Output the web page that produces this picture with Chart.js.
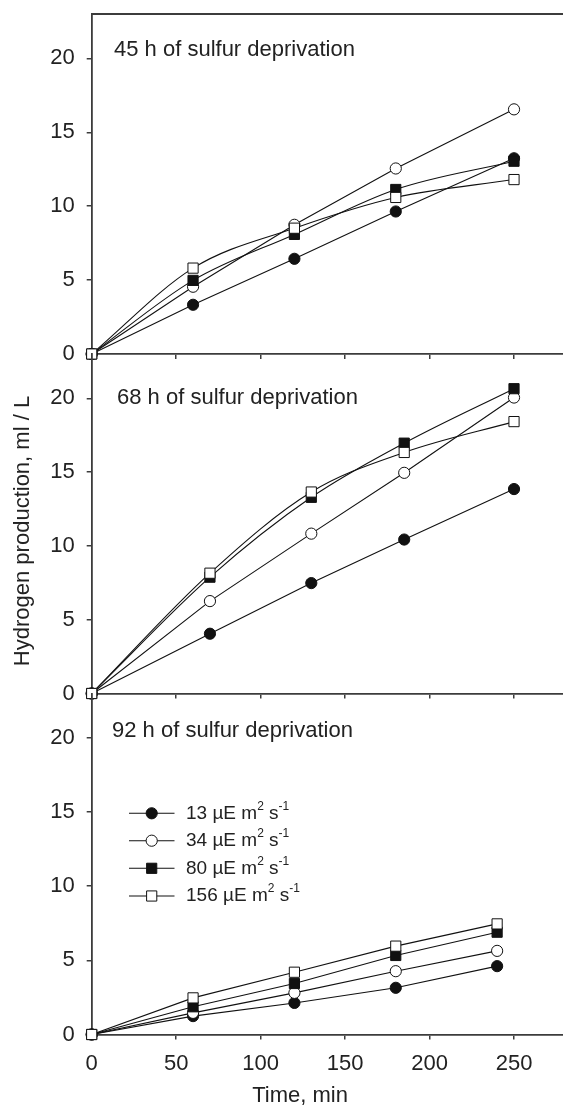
<!DOCTYPE html>
<html>
<head>
<meta charset="utf-8">
<script src="https://cdn.jsdelivr.net/npm/chart.js@4.4.1/dist/chart.umd.min.js"></script>
<style>
  html, body { margin:0; padding:0; background:#fff; }
  #wrap { position:relative; width:563px; height:1106px; overflow:hidden;
          font-family:"Liberation Sans", Arial, sans-serif; color:#222; }
  #wrap canvas { position:absolute; left:0; top:0; }
  .ytitle { position:absolute; left:-178px; top:518px; width:400px; line-height:26px;
            text-align:center; font-size:22px; transform:rotate(-90deg); }
  .xtitle { position:absolute; left:200px; top:1082px; width:200px; line-height:26px;
            text-align:center; font-size:22px; }
</style>
</head>
<body>
<div id="wrap">
  <canvas id="c1" width="563" height="1106"></canvas>
  <canvas id="c2" width="563" height="1106"></canvas>
  <canvas id="c3" width="563" height="1106"></canvas>
  <div class="ytitle">Hydrogen production, ml / L</div>
  <div class="xtitle">Time, min</div>
</div>
<script>
// time points (min) of each panel
const time45 = [0, 60, 120, 180, 250];
const time68 = [0, 70, 130, 185, 250];
const time92 = [0, 60, 120, 180, 240];

// light intensities (µE m2 s-1)
const lightLevels = ["13", "34", "80", "156"];
const panelTitles = ["45 h of sulfur deprivation", "68 h of sulfur deprivation", "92 h of sulfur deprivation"];
const yTicks = [0, 5, 10, 15, 20];
const xTicks = [0, 50, 100, 150, 200, 250];

// hydrogen production, ml / L
const h45_13  = [0, 3.33, 6.44, 9.64, 13.24];
const h45_34  = [0, 4.55, 8.74, 12.55, 16.55];
const h45_80  = [0, 4.98, 8.09, 11.13, 13.04];
const h45_156 = [0, 5.81, 8.51, 10.59, 11.80];

const h68_13  = [0, 4.05, 7.48, 10.43, 13.85];
const h68_34  = [0, 6.26, 10.83, 14.95, 20.05];
const h68_80  = [0, 7.88, 13.29, 16.96, 20.65];
const h68_156 = [0, 8.15, 13.65, 16.33, 18.42];

const h92_13  = [0, 1.24, 2.13, 3.15, 4.61];
const h92_34  = [0, 1.46, 2.81, 4.27, 5.64];
const h92_80  = [0, 1.87, 3.44, 5.33, 6.90];
const h92_156 = [0, 2.47, 4.20, 5.96, 7.46];

const W = 563, H = 1106;
const FONT = '"Liberation Sans", Arial, sans-serif';
const AX = "#3c3c3c";
const tops = [14, 354, 693.5];
const bottoms = [354, 693.5, 1034.5];
const textPos = [[114, 50], [117, 397.5], [112, 731]];

// marker look for each light level
const styles = [
  { pointStyle:"circle", fill:"#111", radius:5.6, order:3 },
  { pointStyle:"circle", fill:"#fff", radius:5.6, order:2 },
  { pointStyle:"rect",   fill:"#111", radius:7.2, order:1 },
  { pointStyle:"rect",   fill:"#fff", radius:7.2, order:0 }
];

function toXY(xs, ys){ return xs.map((x,i)=>({x:x, y:ys[i]})); }

function buildSets(xs, series, smoothSquares){
  return series.map((ys,k)=>({
    label: lightLevels[k],
    data: toXY(xs, ys),
    borderColor:"#111", borderWidth:1.1,
    pointStyle: styles[k].pointStyle,
    pointRadius: styles[k].radius,
    pointBackgroundColor: styles[k].fill,
    pointBorderColor:"#111", pointBorderWidth:1,
    cubicInterpolationMode: (smoothSquares && k>=2) ? "monotone" : "default",
    tension:0, clip:false, order: styles[k].order
  }));
}

const panelText = {
  id:"panelText",
  afterDraw(chart, args, opts){
    const ctx = chart.ctx, a = chart.chartArea;
    ctx.save();
    ctx.fillStyle = "#222";
    ctx.font = "22px " + FONT;
    ctx.textBaseline = "middle";
    ctx.fillText(opts.text, opts.x, opts.y);
    if(opts.topLine){
      ctx.strokeStyle = AX; ctx.lineWidth = 1.8;
      ctx.beginPath(); ctx.moveTo(a.left, a.top); ctx.lineTo(a.right, a.top); ctx.stroke();
    }
    if(opts.legend){
      const rows = [813.3, 840.7, 868.3, 896];
      rows.forEach((y,k)=>{
        ctx.strokeStyle = "#111"; ctx.lineWidth = 1.1;
        ctx.beginPath(); ctx.moveTo(129, y); ctx.lineTo(174.5, y); ctx.stroke();
        ctx.fillStyle = styles[k].fill; ctx.lineWidth = 1;
        ctx.beginPath();
        if(styles[k].pointStyle === "circle") ctx.arc(151.7, y, 5.6, 0, Math.PI*2);
        else { const s = styles[k].radius*Math.SQRT1_2; ctx.rect(151.7-s, y-s, 2*s, 2*s); }
        ctx.fill(); ctx.stroke();
        ctx.fillStyle = "#222";
        let x = 186;
        const part = (t, size, dy)=>{
          ctx.font = size + "px " + FONT;
          ctx.fillText(t, x, y + dy);
          x += ctx.measureText(t).width;
        };
        part(lightLevels[k] + " \u00b5E m", 19, 0);
        part("2", 12, -7);
        part(" s", 19, 0);
        part("-1", 12, -7);
      });
    }
    ctx.restore();
  }
};

function noPad(s){ s.paddingTop = 0; s.paddingBottom = 0; s.paddingLeft = 0; s.paddingRight = 0; }

function makePanel(id, i, xs, series, smooth){
  const last = i === 2;
  return new Chart(document.getElementById(id), {
    type:"line",
    data:{ datasets: buildSets(xs, series, smooth) },
    plugins:[panelText],
    options:{
      responsive:false, animation:false, devicePixelRatio:1,
      layout:{ autoPadding:false, padding:{ top:tops[i], bottom:H - bottoms[i] - 40, left:0, right:0 } },
      plugins:{
        legend:{ display:false }, tooltip:{ enabled:false },
        panelText:{ text:panelTitles[i], x:textPos[i][0], y:textPos[i][1], topLine:i===0, legend:last }
      },
      scales:{
        x:{
          type:"linear", min:0, max:279,
          afterBuildTicks(s){ s.ticks = xTicks.map(v=>({value:v})); },
          afterFit(s){ s.height = 40; noPad(s); },
          ticks:{ display:last, color:"#222", padding:11, font:{ family:FONT, size:22 } },
          grid:{ drawOnChartArea:false, drawTicks:true, tickLength:5, color:AX, lineWidth:1.5 },
          border:{ display:true, color:AX, width:1.8 }
        },
        y:{
          min:0, max:23,
          afterBuildTicks(s){ s.ticks = yTicks.map(v=>({value:v})); },
          afterFit(s){ s.width = 91.7; noPad(s); },
          ticks:{ color:"#222", padding:12, font:{ family:FONT, size:22 } },
          grid:{ drawOnChartArea:false, drawTicks:true, tickLength:5, color:AX, lineWidth:1.5 },
          border:{ display:true, color:AX, width:1.8 }
        }
      }
    }
  });
}

makePanel("c1", 0, time45, [h45_13, h45_34, h45_80, h45_156], true);
makePanel("c2", 1, time68, [h68_13, h68_34, h68_80, h68_156], true);
makePanel("c3", 2, time92, [h92_13, h92_34, h92_80, h92_156], false);
</script>
</body>
</html>
